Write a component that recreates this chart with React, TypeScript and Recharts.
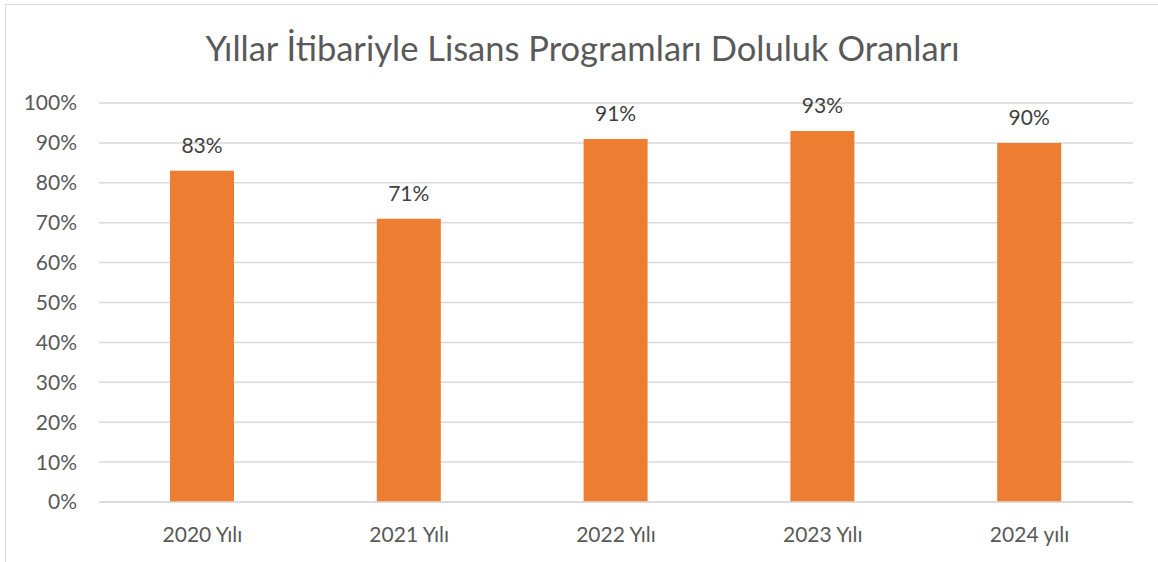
import { BarChart, Bar, XAxis, YAxis, CartesianGrid, LabelList } from 'recharts'

const years = ['2020 Yılı', '2021 Yılı', '2022 Yılı', '2023 Yılı', '2024 yılı']
const occupancy = [83, 71, 91, 93, 90]
const yTicks = [0, 10, 20, 30, 40, 50, 60, 70, 80, 90, 100]

const data = years.map((year, i) => ({ year, value: occupancy[i] }))

const font = 'Lato, "Open Sans", sans-serif'

export default function App() {
  return (
    <div
      style={{
        position: 'absolute',
        left: 0,
        top: 0,
        width: 1158,
        height: 562,
        background: '#fff',
        fontFamily: font,
      }}
    >
      <div
        style={{
          position: 'absolute',
          left: 5,
          top: 4,
          right: -2,
          bottom: -2,
          borderLeft: '1.5px solid #d9d9d9',
          borderTop: '1.5px solid #d9d9d9',
        }}
      />
      <div
        style={{
          position: 'absolute',
          left: 0,
          width: 1165,
          top: 27,
          textAlign: 'center',
          fontSize: 34.5,
          color: '#595959',
        }}
      >
        Yıllar İtibariyle Lisans Programları Doluluk Oranları
      </div>
      <div style={{ position: 'absolute', left: 0, top: 0 }}>
        <BarChart
          width={1158}
          height={562}
          data={data}
          margin={{ top: 103, right: 25, left: 0, bottom: 30 }}
          barSize={64}
        >
          <CartesianGrid vertical={false} stroke="#d9d9d9" strokeWidth={1.5} />
          <XAxis
            dataKey="year"
            axisLine={{ stroke: '#d9d9d9', strokeWidth: 1.5 }}
            tickLine={false}
            tickSize={0}
            tickMargin={25}
            tick={{ fill: '#595959', fontSize: 21, fontFamily: font }}
          />
          <YAxis
            width={99}
            domain={[0, 100]}
            ticks={yTicks}
            interval={0}
            axisLine={false}
            tickLine={false}
            tickSize={0}
            tickMargin={22}
            tickFormatter={(v: number) => `${v}%`}
            tick={{ fill: '#595959', fontSize: 21, fontFamily: font }}
          />
          <Bar dataKey="value" fill="#ED7D31" isAnimationActive={false}>
            <LabelList
              dataKey="value"
              position="top"
              offset={18}
              formatter={(v: any) => `${v}%`}
              fill="#404040"
              fontSize={21}
              fontFamily={font}
            />
          </Bar>
        </BarChart>
      </div>
    </div>
  )
}
